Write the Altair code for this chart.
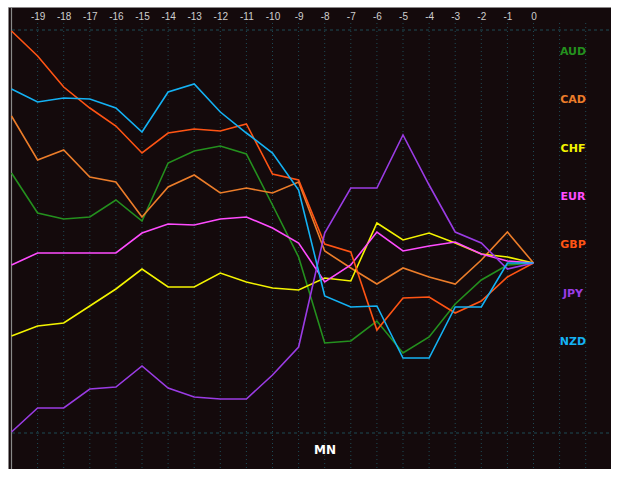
import altair as alt
import pandas as pd

days = list(range(-20, 1))
currencies = ["AUD", "CAD", "CHF", "EUR", "GBP", "JPY", "NZD"]
colors = ["#24901e", "#ec7d2a", "#f4f400", "#ff4cff", "#ff5414", "#9a3ce4", "#14b2f4"]

AUD = [1.80, 1.00, 0.88, 0.92, 1.26, 0.84, 2.00, 2.24, 2.34, 2.18, 1.16, 0.12, -1.60, -1.56, -1.16, -1.80, -1.48, -0.82, -0.34, -0.04, 0.00]
CAD = [2.94, 2.06, 2.26, 1.72, 1.62, 0.92, 1.52, 1.76, 1.40, 1.50, 1.40, 1.62, 0.24, -0.10, -0.42, -0.10, -0.28, -0.42, 0.06, 0.62, 0.00]
CHF = [-1.46, -1.26, -1.20, -0.86, -0.52, -0.12, -0.48, -0.48, -0.20, -0.38, -0.50, -0.54, -0.30, -0.36, 0.80, 0.46, 0.60, 0.40, 0.18, 0.12, 0.00]
EUR = [-0.04, 0.20, 0.20, 0.20, 0.20, 0.60, 0.78, 0.76, 0.88, 0.92, 0.70, 0.40, -0.38, -0.04, 0.62, 0.24, 0.34, 0.42, 0.18, 0.04, 0.00]
GBP = [4.64, 4.14, 3.52, 3.10, 2.74, 2.20, 2.60, 2.68, 2.64, 2.78, 1.78, 1.66, 0.38, 0.22, -1.34, -0.70, -0.68, -1.00, -0.76, -0.28, 0.00]
JPY = [-3.38, -2.90, -2.90, -2.52, -2.48, -2.06, -2.50, -2.68, -2.72, -2.72, -2.24, -1.68, 0.60, 1.50, 1.50, 2.56, 1.56, 0.62, 0.40, -0.12, 0.00]
NZD = [3.48, 3.22, 3.30, 3.28, 3.10, 2.62, 3.42, 3.58, 3.02, 2.60, 2.20, 1.46, -0.66, -0.88, -0.86, -1.90, -1.90, -0.88, -0.88, 0.00, 0.00]
series = [AUD, CAD, CHF, EUR, GBP, JPY, NZD]

tick_values = list(range(-19, 1))
grid_values = list(range(-19, 3))
band_levels = [4.66, -3.40]
x_title = "MN"

rows = []
for cur, vals in zip(currencies, series):
    for d, v in zip(days, vals):
        rows.append({"day": d, "currency": cur, "value": v})
df = pd.DataFrame(rows)

xs = alt.Scale(domain=[-20.134, 2.969], nice=False, zero=False)
ys = alt.Scale(domain=[-4.12, 5.12], nice=False, zero=False)
cs = alt.Scale(domain=currencies, range=colors)

x_axis = alt.Axis(
    orient="top", values=tick_values, offset=-16, ticks=False, domain=False,
    grid=False, labelColor="#cfcfcf", labelFontSize=10, labelFont="Liberation Sans",
    labelFlush=False, title=None, labelPadding=2, labelOverlap=False,
    labelExpr="'' + datum.value",
)

grid = alt.Chart(pd.DataFrame({"day": grid_values})).mark_rule(
    color="#1d4a55", strokeDash=[1, 3], strokeWidth=1
).encode(
    x=alt.X("day:Q", scale=xs, axis=x_axis),
    y=alt.value(16), y2=alt.value(462),
)

left_line = alt.Chart(pd.DataFrame({"day": [days[0]]})).mark_rule(
    color="#8a8a8a", strokeWidth=1.2
).encode(
    x=alt.X("day:Q", scale=xs, axis=x_axis),
    y=alt.value(0), y2=alt.value(462),
)

bands = alt.Chart(pd.DataFrame({"b": band_levels})).mark_rule(
    color="#1d4a55", strokeDash=[3, 3], strokeWidth=1
).encode(
    y=alt.Y("b:Q", scale=ys, axis=None),
    x=alt.value(4), x2=alt.value(603),
)

lines = alt.Chart(df).mark_line(strokeWidth=1.6).encode(
    x=alt.X("day:Q", scale=xs, axis=x_axis),
    y=alt.Y("value:Q", scale=ys, axis=None),
    color=alt.Color("currency:N", scale=cs, legend=None),
    order=alt.Order("day:Q"),
)

legend = alt.Chart(pd.DataFrame({"currency": currencies})).mark_text(
    font="DejaVu Sans", fontSize=11, fontWeight="bold", align="center", baseline="middle"
).encode(
    text="currency:N",
    x=alt.value(565),
    y=alt.Y("currency:N", scale=alt.Scale(domain=currencies, range=[45, 335], padding=0), axis=None),
    color=alt.Color("currency:N", scale=cs, legend=None),
)

mn = alt.Chart(pd.DataFrame({"t": [x_title]})).mark_text(
    font="DejaVu Sans", fontSize=12, fontWeight="bold", color="#ffffff",
    align="center", baseline="middle"
).encode(text="t:N", x=alt.value(317), y=alt.value(443))

chart = alt.layer(grid, left_line, bands, lines, legend, mn).resolve_scale(
    y="independent"
).properties(
    width=603, height=462,
    padding={"left": 8, "top": 7, "right": 0, "bottom": 0},
    autosize="none",
    background="#ffffff",
).configure_view(
    fill="#140a0c", stroke="#8a8a8a", strokeWidth=1, strokeDash=[1, 1]
)

chart.save("out.html", embed_options={"renderer": "svg", "actions": False})
